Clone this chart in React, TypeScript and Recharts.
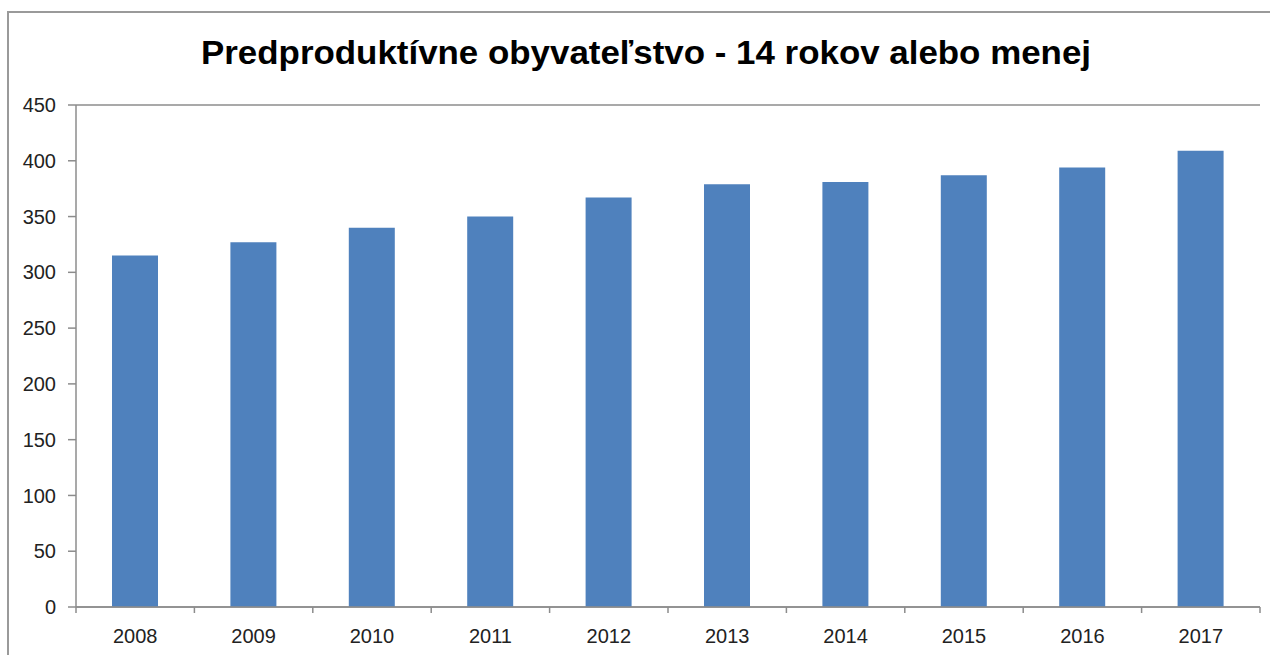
import React from "react";
import { BarChart, Bar, XAxis, YAxis, CartesianGrid } from "recharts";

const years = ["2008", "2009", "2010", "2011", "2012", "2013", "2014", "2015", "2016", "2017"];
const values = [315, 327, 340, 350, 367, 379, 381, 387, 394, 409];
const yTicks = [0, 50, 100, 150, 200, 250, 300, 350, 400, 450];
const title = "Predproduktívne obyvateľstvo - 14 rokov alebo menej";

const data = years.map((y, i) => ({ year: y, value: values[i] }));

const FONT = "'Liberation Sans', Arial, sans-serif";
const GRID = "#8c8c8c";

const XTick = (props: any) => {
  const { x, y, payload, index } = props;
  const off = payload && typeof payload.offset === "number" ? payload.offset : 59.2;
  const last = index === years.length - 1;
  return (
    <g>
      <line x1={x - off} y1={y} x2={x - off} y2={y + 6} stroke={GRID} strokeWidth={1.5} />
      {last && <line x1={x + off} y1={y} x2={x + off} y2={y + 6} stroke={GRID} strokeWidth={1.5} />}
      <text x={x} y={y + 36} textAnchor="middle" fontFamily={FONT} fontSize={20} fill="#222">
        {payload.value}
      </text>
    </g>
  );
};

export default function App() {
  return (
    <div style={{ position: "absolute", left: 0, top: 0, width: 1270, height: 655, background: "#fff", overflow: "hidden" }}>
      <div
        style={{
          position: "absolute",
          left: 7,
          top: 11,
          width: 1300,
          height: 700,
          borderLeft: "2px solid #9a9a9a",
          borderTop: "2px solid #9a9a9a",
        }}
      />
      <svg width={1270} height={100} style={{ position: "absolute", left: 0, top: 0 }}>
        <text
          x={201}
          y={64}
          fontFamily={FONT}
          fontWeight="bold"
          fontSize={33}
          fill="#000"
          textLength={890}
          lengthAdjust="spacingAndGlyphs"
        >
          {title}
        </text>
      </svg>
      <div style={{ position: "absolute", left: 0, top: 0 }}>
        <BarChart width={1270} height={655} data={data} margin={{ top: 105, right: 10, bottom: 0, left: 0 }}>
          <CartesianGrid vertical={false} stroke={GRID} strokeWidth={1.5} />
          <XAxis
            dataKey="year"
            height={48}
            tickLine={false}
            tickSize={0}
            tickMargin={0}
            axisLine={{ stroke: GRID, strokeWidth: 1.5 }}
            tick={<XTick />}
            interval={0}
          />
          <YAxis
            yAxisId="left"
            width={76}
            domain={[0, 450]}
            ticks={yTicks}
            interval={0}
            tickSize={8}
            tickMargin={12}
            tickLine={{ stroke: GRID, strokeWidth: 1.5 }}
            axisLine={{ stroke: GRID, strokeWidth: 1.5 }}
            tick={{ fontFamily: FONT, fontSize: 20, fill: "#222" }}
          />
          <YAxis
            yAxisId="right"
            orientation="right"
            width={0}
            domain={[0, 450]}
            tick={false}
            tickLine={false}
            axisLine={{ stroke: GRID, strokeWidth: 1.5 }}
          />
          <Bar yAxisId="left" dataKey="value" fill="#4f81bd" barSize={46} isAnimationActive={false} />
        </BarChart>
      </div>
    </div>
  );
}
